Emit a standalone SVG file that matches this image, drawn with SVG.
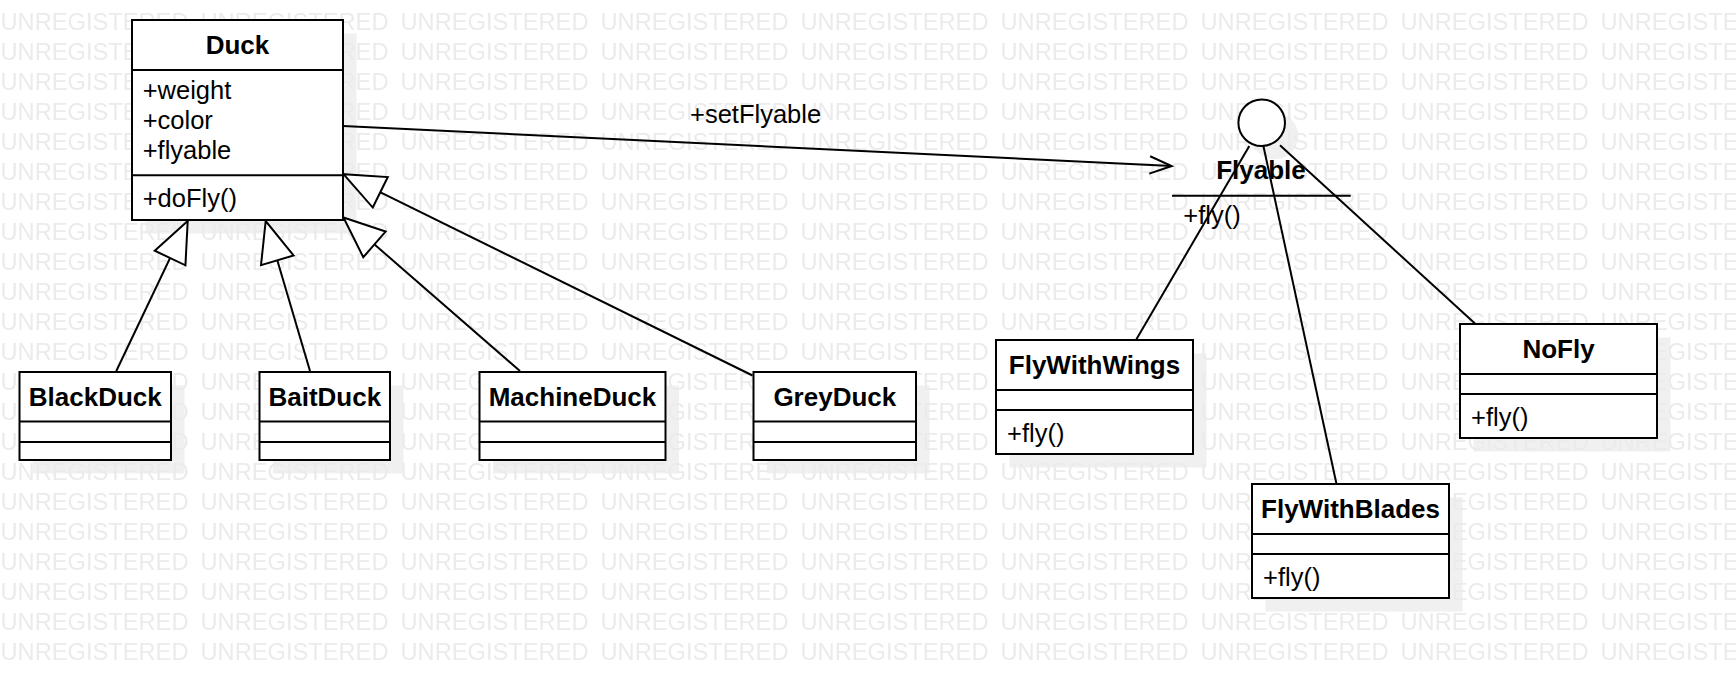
<svg xmlns="http://www.w3.org/2000/svg" width="1736" height="678" viewBox="0 0 1736 678">
<style>
.box{fill:#fff;stroke:#000;stroke-width:2}
.sh{fill:#f0f0f0;stroke:none}
.dv{stroke:#000;stroke-width:2}
.t{font-family:'Liberation Sans',Arial,sans-serif;font-weight:bold;font-size:26px;fill:#000;text-anchor:middle}
.r{font-family:'Liberation Sans',Arial,sans-serif;font-size:25.5px;fill:#000}
.ln{stroke:#000;stroke-width:2;fill:none}
.wm{font-family:'Liberation Sans',Arial,sans-serif;font-size:23px;fill:#ebebeb}
</style>
<defs>
<pattern id="wmp" x="0" y="5" width="200" height="30" patternUnits="userSpaceOnUse">
<text class="wm" x="0.5" y="25" textLength="188" lengthAdjust="spacingAndGlyphs">UNREGISTERED</text>
</pattern>
<marker id="gen" markerUnits="userSpaceOnUse" markerWidth="56" markerHeight="44" viewBox="-48 -22 56 44" refX="0" refY="0" orient="auto">
<path d="M0,0 L-41,-17 L-41,17 Z" fill="#fff" stroke="#000" stroke-width="2"/>
</marker>
<marker id="open" markerUnits="userSpaceOnUse" markerWidth="32" markerHeight="24" viewBox="-28 -12 32 24" refX="0" refY="0" orient="auto">
<path d="M-22,-8.7 L0,0 L-22,8.7" fill="none" stroke="#000" stroke-width="2"/>
</marker>
</defs>
<rect x="0" y="0" width="1736" height="678" fill="#fff"/>
<g id="shadows">
<rect class="sh" x="145.5" y="33.5" width="211" height="200"/>
<rect class="sh" x="33" y="385.5" width="151.5" height="88"/>
<rect class="sh" x="273" y="385.5" width="130.5" height="88"/>
<rect class="sh" x="493" y="385.5" width="186" height="88"/>
<rect class="sh" x="767" y="385.5" width="162.5" height="88"/>
<rect class="sh" x="1009.5" y="353.5" width="197" height="114"/>
<rect class="sh" x="1473.5" y="337.5" width="197" height="114"/>
<rect class="sh" x="1265.5" y="497.5" width="197" height="114"/>
<circle class="sh" cx="1275" cy="136" r="23.3"/>
</g>
<rect x="0" y="0" width="1736" height="666" fill="url(#wmp)"/>
<g id="connectors">
<line class="ln" x1="116.3" y1="371" x2="187.7" y2="221" marker-end="url(#gen)"/>
<line class="ln" x1="310" y1="371" x2="265.7" y2="221" marker-end="url(#gen)"/>
<line class="ln" x1="520" y1="371" x2="343.5" y2="217.5" marker-end="url(#gen)"/>
<line class="ln" x1="752.5" y1="375.5" x2="343.5" y2="174.2" marker-end="url(#gen)"/>
<line class="ln" x1="343" y1="126" x2="1171.7" y2="166" marker-end="url(#open)"/>
<line class="ln" x1="1249.3" y1="146" x2="1136" y2="340"/>
<line class="ln" x1="1263.3" y1="145.5" x2="1336.5" y2="484"/>
<line class="ln" x1="1280" y1="145.3" x2="1475.5" y2="324"/>
<text class="r" x="690" y="123.3">+setFlyable</text>
</g>
<g id="Duck">
<rect class="box" x="132" y="20" width="211" height="200"/>
<line class="dv" x1="132" y1="70" x2="343" y2="70"/>
<line class="dv" x1="132" y1="175.3" x2="343" y2="175.3"/>
<text class="t" x="237.5" y="54">Duck</text>
<text class="r" x="142.7" y="99.3">+weight</text>
<text class="r" x="142.7" y="129.3">+color</text>
<text class="r" x="142.7" y="159.3">+flyable</text>
<text class="r" x="142.7" y="207">+doFly()</text>
</g>
<g id="BlackDuck">
<rect class="box" x="19.5" y="372" width="151.5" height="88"/>
<line class="dv" x1="19.5" y1="421.5" x2="171" y2="421.5"/>
<line class="dv" x1="19.5" y1="442" x2="171" y2="442"/>
<text class="t" x="95.3" y="405.5">BlackDuck</text>
</g>
<g id="BaitDuck">
<rect class="box" x="259.5" y="372" width="130.5" height="88"/>
<line class="dv" x1="259.5" y1="421.5" x2="390" y2="421.5"/>
<line class="dv" x1="259.5" y1="442" x2="390" y2="442"/>
<text class="t" x="324.8" y="405.5">BaitDuck</text>
</g>
<g id="MachineDuck">
<rect class="box" x="479.5" y="372" width="186" height="88"/>
<line class="dv" x1="479.5" y1="421.5" x2="665.5" y2="421.5"/>
<line class="dv" x1="479.5" y1="442" x2="665.5" y2="442"/>
<text class="t" x="572.5" y="405.5">MachineDuck</text>
</g>
<g id="GreyDuck">
<rect class="box" x="753.5" y="372" width="162.5" height="88"/>
<line class="dv" x1="753.5" y1="421.5" x2="916" y2="421.5"/>
<line class="dv" x1="753.5" y1="442" x2="916" y2="442"/>
<text class="t" x="834.8" y="405.5">GreyDuck</text>
</g>
<g id="Flyable">
<circle cx="1261.7" cy="122.7" r="23.3" fill="#fff" stroke="#000" stroke-width="2"/>
<text class="t" x="1261" y="179.3">Flyable</text>
<line class="dv" x1="1172" y1="195.7" x2="1350.7" y2="195.7"/>
<text class="r" x="1183.3" y="223.5">+fly()</text>
</g>
<g id="FlyWithWings">
<rect class="box" x="996" y="340" width="197" height="114"/>
<line class="dv" x1="996" y1="390" x2="1193" y2="390"/>
<line class="dv" x1="996" y1="410" x2="1193" y2="410"/>
<text class="t" x="1094.5" y="374">FlyWithWings</text>
<text class="r" x="1007" y="441.5">+fly()</text>
</g>
<g id="NoFly">
<rect class="box" x="1460" y="324" width="197" height="114"/>
<line class="dv" x1="1460" y1="374" x2="1657" y2="374"/>
<line class="dv" x1="1460" y1="394" x2="1657" y2="394"/>
<text class="t" x="1558.5" y="358">NoFly</text>
<text class="r" x="1471" y="425.5">+fly()</text>
</g>
<g id="FlyWithBlades">
<rect class="box" x="1252" y="484" width="197" height="114"/>
<line class="dv" x1="1252" y1="534" x2="1449" y2="534"/>
<line class="dv" x1="1252" y1="554" x2="1449" y2="554"/>
<text class="t" x="1350.5" y="518">FlyWithBlades</text>
<text class="r" x="1263" y="585.5">+fly()</text>
</g>
</svg>
